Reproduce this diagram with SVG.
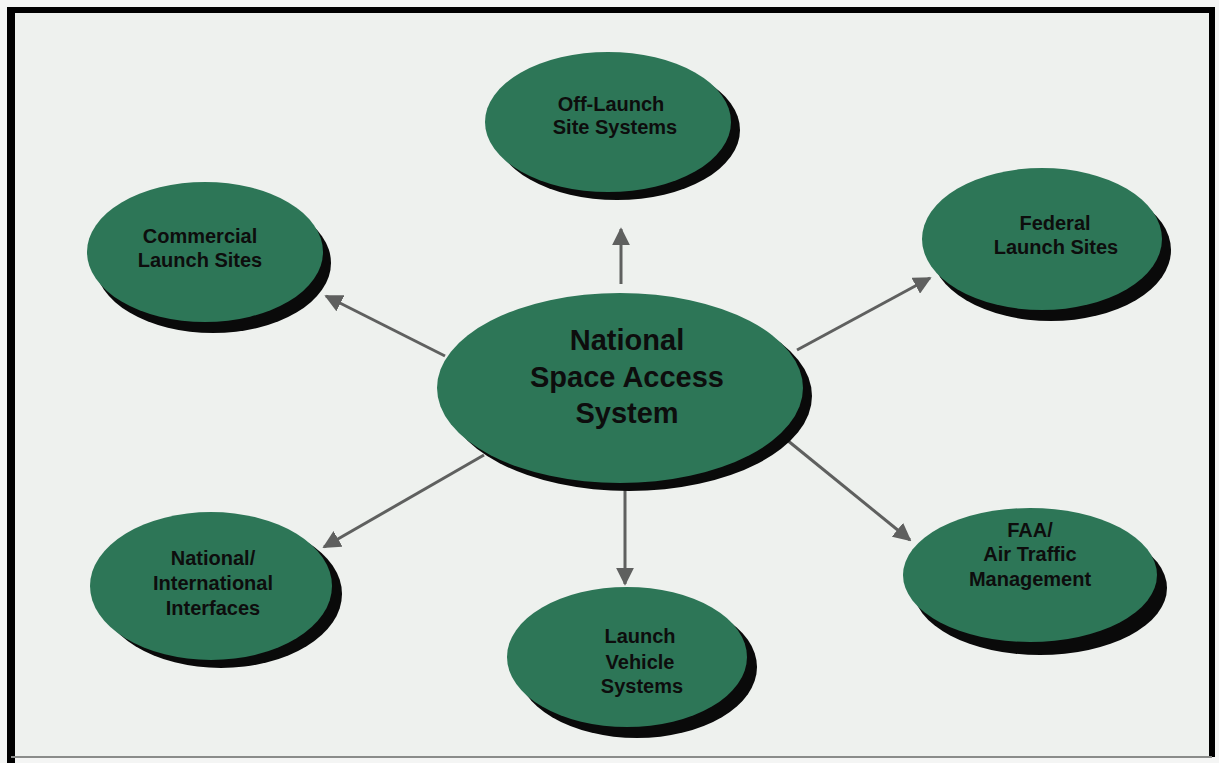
<svg xmlns="http://www.w3.org/2000/svg" width="1219" height="763" viewBox="0 0 1219 763">
  <defs>
    <marker id="arrow" viewBox="0 0 10 10" refX="9" refY="5" markerWidth="6" markerHeight="6" markerUnits="strokeWidth" orient="auto">
      <path d="M0,0 L10,5 L0,10 Z" fill="#5f605f"/>
    </marker>
  </defs>
  <style>
    .shadow { fill: #0a0a0a; }
    .body { fill: #2d7657; }
    .lbl { font-family: "Liberation Sans", Arial, sans-serif; font-weight: bold; font-size: 20px; fill: #0d0d0d; text-anchor: middle; }
    .big { font-size: 29px; }
    .conn { stroke: #5f605f; stroke-width: 3; fill: none; marker-end: url(#arrow); }
  </style>

  <!-- page and frame -->
  <rect x="0" y="0" width="1219" height="763" fill="#f4f5f4"/>
  <rect x="11" y="10" width="1201" height="747" fill="#eef1ee"/>
  <line x1="11" y1="10" x2="1212" y2="10" stroke="#000" stroke-width="6"/>
  <line x1="11" y1="7" x2="11" y2="763" stroke="#000" stroke-width="8"/>
  <line x1="1212" y1="7" x2="1212" y2="757" stroke="#000" stroke-width="6"/>
  <line x1="11" y1="757" x2="1212" y2="757" stroke="#8a8c8a" stroke-width="2"/>

  <!-- connectors -->
  <g id="connectors">
    <line class="conn" x1="621" y1="284" x2="621" y2="229"/>
    <line class="conn" x1="445" y1="356" x2="326" y2="296"/>
    <line class="conn" x1="797" y1="350" x2="930" y2="278"/>
    <line class="conn" x1="787" y1="440" x2="910" y2="540"/>
    <line class="conn" x1="484" y1="455" x2="324" y2="547"/>
    <line class="conn" x1="625" y1="488" x2="625" y2="584"/>
  </g>

  <g id="node-center">
    <ellipse class="shadow" cx="629" cy="396" rx="183" ry="95"/>
    <ellipse class="body" cx="620" cy="388" rx="183" ry="95"/>
    <text class="lbl big" x="627" y="350">National</text>
    <text class="lbl big" x="627" y="387">Space Access</text>
    <text class="lbl big" x="627" y="423">System</text>
  </g>

  <g id="node-offlaunch">
    <ellipse class="shadow" cx="617" cy="130" rx="123" ry="70"/>
    <ellipse class="body" cx="608" cy="122" rx="123" ry="70"/>
    <text class="lbl" x="611" y="111">Off-Launch</text>
    <text class="lbl" x="615" y="134">Site Systems</text>
  </g>

  <g id="node-commercial">
    <ellipse class="shadow" cx="213" cy="263" rx="118" ry="70"/>
    <ellipse class="body" cx="205" cy="252" rx="118" ry="70"/>
    <text class="lbl" x="200" y="243">Commercial</text>
    <text class="lbl" x="200" y="267">Launch Sites</text>
  </g>

  <g id="node-federal">
    <ellipse class="shadow" cx="1051" cy="250" rx="120" ry="71"/>
    <ellipse class="body" cx="1042" cy="239" rx="120" ry="71"/>
    <text class="lbl" x="1055" y="230">Federal</text>
    <text class="lbl" x="1056" y="254">Launch Sites</text>
  </g>

  <g id="node-faa">
    <ellipse class="shadow" cx="1040" cy="588" rx="127" ry="67"/>
    <ellipse class="body" cx="1030" cy="575" rx="127" ry="67"/>
    <text class="lbl" x="1030" y="537">FAA/</text>
    <text class="lbl" x="1030" y="561">Air Traffic</text>
    <text class="lbl" x="1030" y="586">Management</text>
  </g>

  <g id="node-interfaces">
    <ellipse class="shadow" cx="221" cy="594" rx="121" ry="74"/>
    <ellipse class="body" cx="211" cy="586" rx="121" ry="74"/>
    <text class="lbl" x="213" y="565">National/</text>
    <text class="lbl" x="213" y="590">International</text>
    <text class="lbl" x="213" y="615">Interfaces</text>
  </g>

  <g id="node-vehicle">
    <ellipse class="shadow" cx="637" cy="667" rx="120" ry="71"/>
    <ellipse class="body" cx="627" cy="657" rx="120" ry="70"/>
    <text class="lbl" x="640" y="643">Launch</text>
    <text class="lbl" x="640" y="669">Vehicle</text>
    <text class="lbl" x="642" y="693">Systems</text>
  </g>
</svg>
